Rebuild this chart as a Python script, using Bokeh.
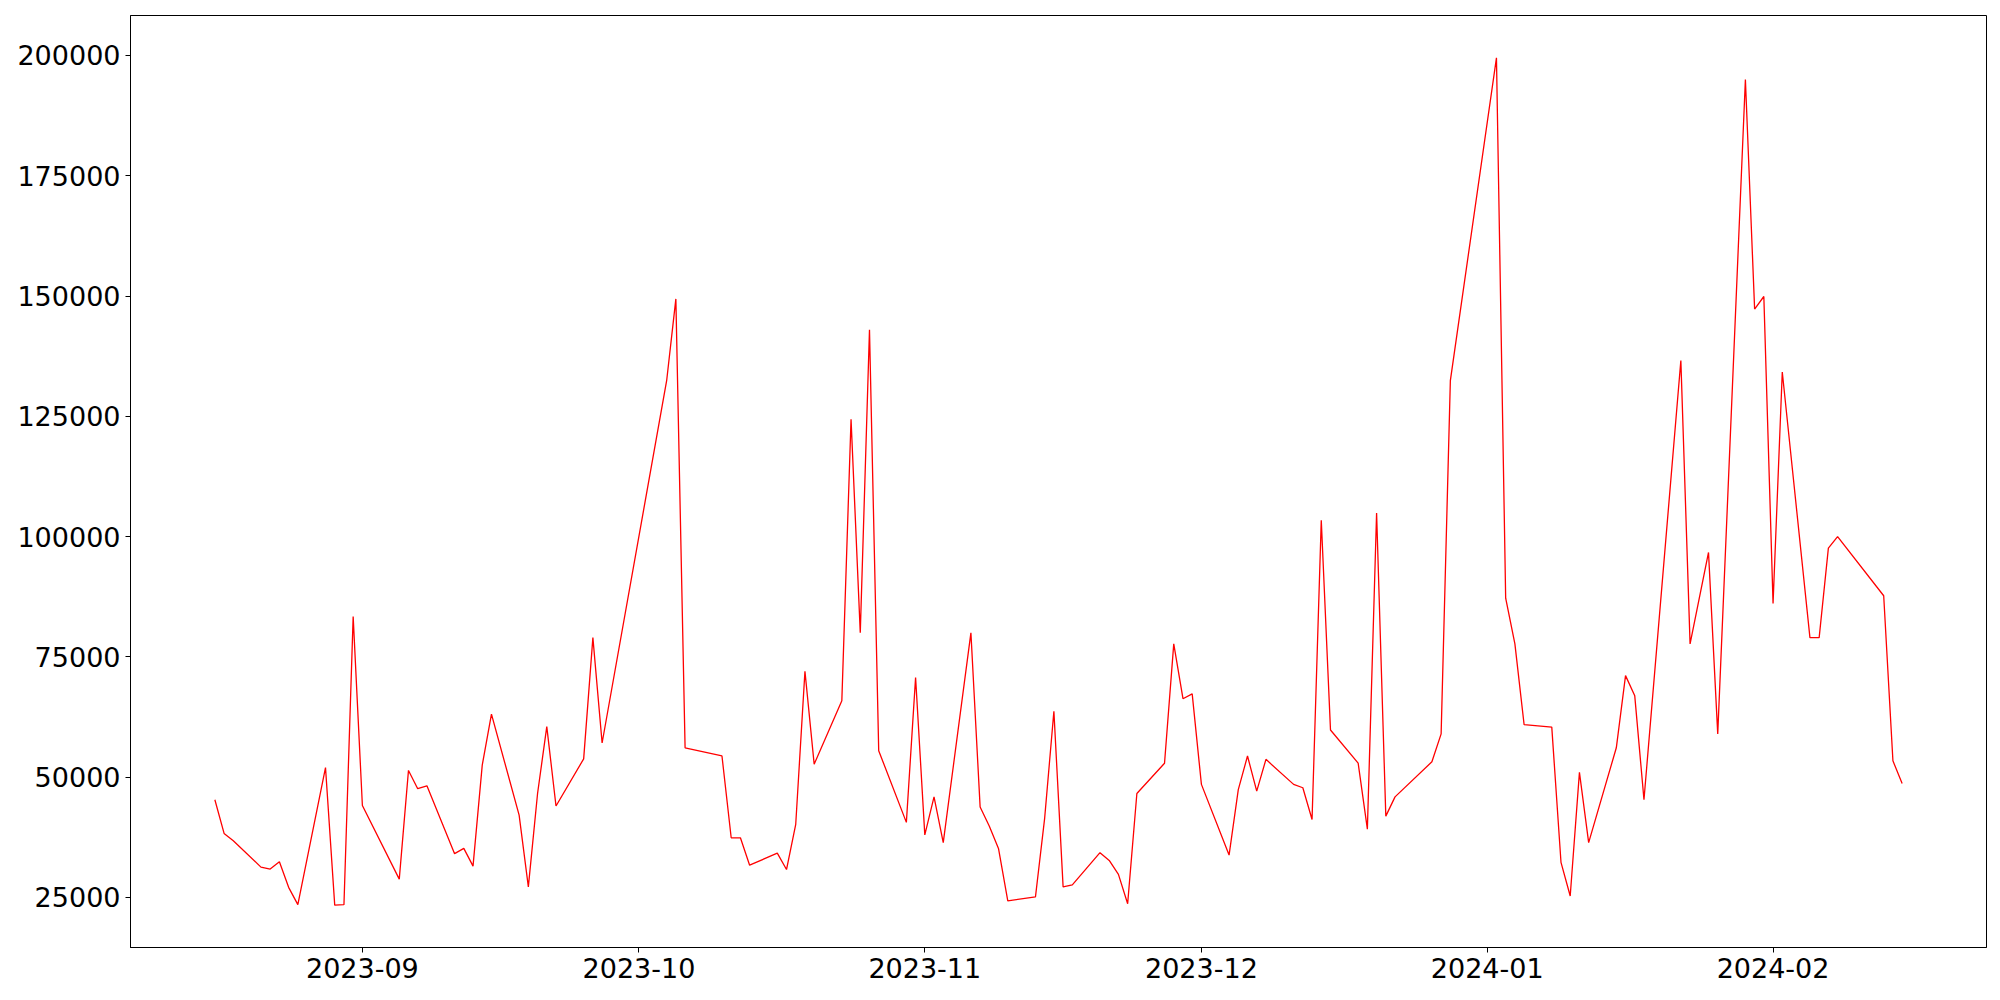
import pandas as pd
from bokeh.plotting import figure
from bokeh.models import Range1d, FixedTicker, DatetimeTickFormatter, BasicTickFormatter
from bokeh.embed import file_html
from bokeh.resources import INLINE

dates = [
    "2023-08-16", "2023-08-17", "2023-08-18", "2023-08-21", "2023-08-22", "2023-08-23",
    "2023-08-24", "2023-08-25", "2023-08-28", "2023-08-29", "2023-08-30", "2023-08-31",
    "2023-09-01", "2023-09-05", "2023-09-06", "2023-09-07", "2023-09-08", "2023-09-11",
    "2023-09-12", "2023-09-13", "2023-09-14", "2023-09-15", "2023-09-18", "2023-09-19",
    "2023-09-20", "2023-09-21", "2023-09-22", "2023-09-25", "2023-09-26", "2023-09-27",
    "2023-10-04", "2023-10-05", "2023-10-06", "2023-10-10", "2023-10-11", "2023-10-12",
    "2023-10-13", "2023-10-16", "2023-10-17", "2023-10-18", "2023-10-19", "2023-10-20",
    "2023-10-23", "2023-10-24", "2023-10-25", "2023-10-26", "2023-10-27", "2023-10-30",
    "2023-10-31", "2023-11-01", "2023-11-02", "2023-11-03", "2023-11-06", "2023-11-07",
    "2023-11-08", "2023-11-09", "2023-11-10", "2023-11-13", "2023-11-14", "2023-11-15",
    "2023-11-16", "2023-11-17", "2023-11-20", "2023-11-21", "2023-11-22", "2023-11-23",
    "2023-11-24", "2023-11-27", "2023-11-28", "2023-11-29", "2023-11-30", "2023-12-01",
    "2023-12-04", "2023-12-05", "2023-12-06", "2023-12-07", "2023-12-08", "2023-12-11",
    "2023-12-12", "2023-12-13", "2023-12-14", "2023-12-15", "2023-12-18", "2023-12-19",
    "2023-12-20", "2023-12-21", "2023-12-22", "2023-12-26", "2023-12-27", "2023-12-28",
    "2024-01-02", "2024-01-03", "2024-01-04", "2024-01-05", "2024-01-08", "2024-01-09",
    "2024-01-10", "2024-01-11", "2024-01-12", "2024-01-15", "2024-01-16", "2024-01-17",
    "2024-01-18", "2024-01-22", "2024-01-23", "2024-01-25", "2024-01-26", "2024-01-29",
    "2024-01-30", "2024-01-31", "2024-02-01", "2024-02-02", "2024-02-05", "2024-02-06",
    "2024-02-07", "2024-02-08", "2024-02-13", "2024-02-14", "2024-02-15",
]

values = [
    45300, 38300, 36800, 31300, 30900, 32400,
    27100, 23500, 52000, 23400, 23500, 83400,
    44100, 28800, 51400, 47600, 48200, 34100,
    35200, 31500, 52500, 63100, 42100, 27200,
    46600, 60500, 44000, 53800, 79000, 57100,
    132400, 149400, 56100, 54400, 37400, 37400,
    31700, 34200, 30800, 40200, 72000, 52700,
    65900, 124400, 80000, 143000, 55500, 40600,
    70700, 38000, 45900, 36400, 80000, 43800,
    39800, 35100, 24300, 25100, 41500, 63700,
    27200, 27600, 34300, 32700, 29800, 23700,
    46600, 52900, 77700, 66300, 67300, 48500,
    33800, 47400, 54400, 47100, 53700, 48500,
    47800, 41200, 103400, 59800, 52900, 39200,
    104900, 41900, 45900, 53200, 59000, 132400,
    199500, 87200, 77700, 60900, 60400, 32300,
    25300, 51000, 36400, 56100, 71100, 66900,
    45300, 136600, 77700, 96700, 59000, 195000,
    147300, 149900, 86100, 134200, 79000, 79000,
    97600, 100000, 87700, 53400, 48700,
]

x_tick_dates = ["2023-09-01", "2023-10-01", "2023-11-01", "2023-12-01", "2024-01-01", "2024-02-01"]
y_ticks = [25000, 50000, 75000, 100000, 125000, 150000, 175000, 200000]

x = pd.to_datetime(dates)

# matplotlib-like 5% margins
xmin, xmax = x.min(), x.max()
xpad = (xmax - xmin) * 0.05
ymin, ymax = min(values), max(values)
ypad = (ymax - ymin) * 0.05

p = figure(
    width=1998, height=998,
    x_axis_type="datetime",
    output_backend="svg",
    toolbar_location=None,
    x_range=Range1d(xmin - xpad, xmax + xpad),
    y_range=Range1d(ymin - ypad, ymax + ypad),
    min_border_left=130, min_border_right=12, min_border_top=15, min_border_bottom=51,
)

p.line(x, values, line_color="red", line_width=1.3)

p.grid.visible = False
p.outline_line_color = "black"
p.outline_line_width = 1
p.outline_line_alpha = 1
p.background_fill_color = "white"
p.border_fill_color = "white"

tick_ms = [pd.Timestamp(d).value // 10**6 for d in x_tick_dates]
p.xaxis.ticker = FixedTicker(ticks=tick_ms)
fmt = "%Y-%m"
p.xaxis.formatter = DatetimeTickFormatter(
    milliseconds=fmt, seconds=fmt, minsec=fmt, minutes=fmt, hourmin=fmt, hours=fmt,
    days=fmt, months=fmt, years=fmt,
)
p.yaxis.ticker = FixedTicker(ticks=y_ticks)
p.yaxis.formatter = BasicTickFormatter(use_scientific=False)

for ax in (p.xaxis, p.yaxis):
    ax.major_label_text_font = "DejaVu Sans"
    ax.major_label_text_font_size = "27px"
    ax.major_label_text_color = "black"
    ax.major_tick_out = 5
    ax.major_tick_in = 0
    ax.major_tick_line_color = "black"
    ax.major_tick_line_width = 1
    ax.minor_tick_line_color = None
    ax.axis_line_color = "black"
    ax.axis_line_width = 1
    ax.major_label_standoff = 5

open("out.html", "w").write(file_html(p, INLINE))
